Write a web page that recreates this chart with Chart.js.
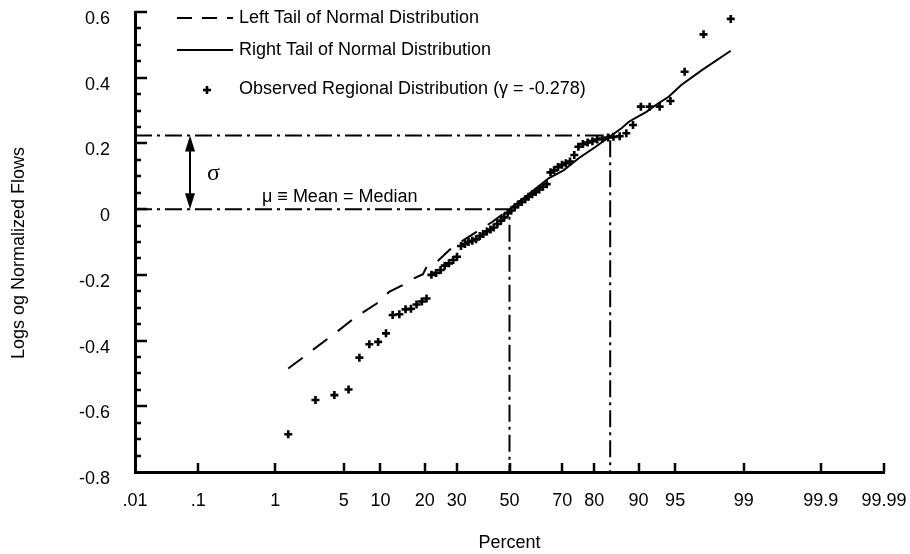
<!DOCTYPE html>
<html>
<head>
<meta charset="utf-8">
<script src="https://cdn.jsdelivr.net/npm/chart.js@4.4.0/dist/chart.umd.min.js"></script>
<style>
  html, body { margin: 0; padding: 0; background: #fff; }
</style>
</head>
<body>
<canvas id="probChart" width="910" height="554"></canvas>
<script>
// x tick positions (percent exceedance) and their labels
const xTickPct = [0.01, 0.1, 1, 5, 10, 20, 30, 50, 70, 80, 90, 95, 99, 99.9, 99.99];
const xTickLabels = ['.01', '.1', '1', '5', '10', '20', '30', '50', '70', '80', '90', '95', '99', '99.9', '99.99'];
const yTicks = [-0.8, -0.6, -0.4, -0.2, 0, 0.2, 0.4, 0.6];

// observed regional distribution (plotting position %, log normalized flow)
const observedPct = [1.4, 2.7, 4.1, 5.5, 6.8, 8.2, 9.6, 11.0, 12.3, 13.7, 15.1, 16.4, 17.8, 19.2, 20.5,
  21.9, 23.3, 24.7, 26.0, 27.4, 28.8, 30.1, 31.5, 32.9, 34.2, 35.6, 37.0, 38.4, 39.7, 41.1, 42.5, 43.8,
  45.2, 46.6, 47.9, 49.3, 50.7, 52.1, 53.4, 54.8, 56.2, 57.5, 58.9, 60.3, 61.6, 63.0, 64.4, 65.8, 67.1,
  68.5, 69.9, 71.2, 72.6, 74.0, 75.3, 76.7, 78.1, 79.5, 80.8, 82.2, 83.6, 84.9, 86.3, 87.7, 89.0, 90.4,
  91.8, 93.2, 94.5, 95.9, 97.3, 98.6];
const observedVal = [-0.685, -0.581, -0.566, -0.549, -0.452, -0.411, -0.404, -0.378, -0.322, -0.320,
  -0.305, -0.303, -0.290, -0.281, -0.272, -0.200, -0.194, -0.185, -0.172, -0.165, -0.155, -0.145,
  -0.112, -0.106, -0.100, -0.096, -0.092, -0.082, -0.076, -0.068, -0.062, -0.056, -0.045, -0.035,
  -0.025, -0.012, -0.004, 0.006, 0.014, 0.022, 0.030, 0.038, 0.045, 0.052, 0.060, 0.068, 0.076,
  0.112, 0.118, 0.128, 0.135, 0.140, 0.145, 0.165, 0.190, 0.198, 0.203, 0.207, 0.212, 0.215, 0.218,
  0.220, 0.222, 0.231, 0.256, 0.312, 0.312, 0.312, 0.329, 0.418, 0.532, 0.579];

// left tail of normal distribution (dashed)
const leftPct = [1.4, 2.0, 2.6, 3.6, 4.5, 5.9, 7.5, 9.3, 11.6, 14.2, 17.4, 19.5, 20.6, 23.5, 27.6, 30.6, 36.0, 43.0, 50.0];
const leftVal = [-0.485, -0.452, -0.426, -0.393, -0.369, -0.337, -0.311, -0.288, -0.252, -0.233, -0.209, -0.198, -0.174, -0.161, -0.124, -0.104, -0.075, -0.040, 0.0];

// right tail of normal distribution (solid)
const rightPct = [50.0, 57.5, 65.1, 70.4, 75.4, 80.4, 83.7, 86.7, 88.2, 91.3, 92.7, 94.3, 95.6, 97.2, 98.6];
const rightVal = [0.0, 0.045, 0.094, 0.118, 0.155, 0.190, 0.218, 0.246, 0.266, 0.296, 0.317, 0.342, 0.378, 0.423, 0.482];

// mean and standard deviation markers
const mu = 0.0;
const sigma = 0.224;
const sigmaPct = 84.13;

// inverse standard normal (Acklam)
function normInv(p) {
    const a = [-3.969683028665376e+01, 2.209460984245205e+02, -2.759285104469687e+02, 1.383577518672690e+02, -3.066479806614716e+01, 2.506628277459239e+00];
    const b = [-5.447609879822406e+01, 1.615858368580409e+02, -1.556989798598866e+02, 6.680131188771972e+01, -1.328068155288572e+01];
    const c = [-7.784894002430293e-03, -3.223964580411365e-01, -2.400758277161838e+00, -2.549732539343734e+00, 4.374664141464968e+00, 2.938163982698783e+00];
    const d = [7.784695709041462e-03, 3.224671290700398e-01, 2.445134137142996e+00, 3.754408661907416e+00];
    const pl = 0.02425;
    let q, r;
    if (p < pl) {
        q = Math.sqrt(-2 * Math.log(p));
        return (((((c[0]*q+c[1])*q+c[2])*q+c[3])*q+c[4])*q+c[5]) / ((((d[0]*q+d[1])*q+d[2])*q+d[3])*q+1);
    }
    if (p > 1 - pl) {
        q = Math.sqrt(-2 * Math.log(1 - p));
        return -(((((c[0]*q+c[1])*q+c[2])*q+c[3])*q+c[4])*q+c[5]) / ((((d[0]*q+d[1])*q+d[2])*q+d[3])*q+1);
    }
    q = p - 0.5;
    r = q * q;
    return (((((a[0]*r+a[1])*r+a[2])*r+a[3])*r+a[4])*r+a[5])*q / (((((b[0]*r+b[1])*r+b[2])*r+b[3])*r+b[4])*r+1);
}

const toPoints = (pcts, vals) => pcts.map((p, i) => ({ x: normInv(p / 100), y: vals[i] }));

const zMin = normInv(xTickPct[0] / 100);
const zMax = normInv(xTickPct[xTickPct.length - 1] / 100);
const yMin = yTicks[0];
const yMax = yTicks[yTicks.length - 1];
const zSigma = normInv(sigmaPct / 100);

const FONT = "'Liberation Sans', Arial, sans-serif";
Chart.defaults.font.family = FONT;
Chart.defaults.font.size = 18;
Chart.defaults.color = '#000';

// axis tick marks (drawn inward), legend, y title and sigma/mean notes
const decor = {
    id: 'decor',
    afterDraw(chart) {
        const { ctx, scales: { x, y }, chartArea: area } = chart;
        const seg = (x1, y1, x2, y2) => { ctx.beginPath(); ctx.moveTo(x1, y1); ctx.lineTo(x2, y2); ctx.stroke(); };
        ctx.save();
        ctx.strokeStyle = '#000';
        ctx.fillStyle = '#000';
        ctx.lineWidth = 2.5;
        xTickPct.slice(1).forEach(p => {
            const px = Math.round(x.getPixelForValue(normInv(p / 100)));
            seg(px, area.bottom, px, area.bottom - 9);
        });
        for (let v = yMin + 0.05; v <= yMax + 1e-9; v += 0.05) {
            const py = Math.round(y.getPixelForValue(v));
            const major = Math.abs(v / 0.2 - Math.round(v / 0.2)) < 1e-6;
            seg(area.left, py, area.left + (major ? 12 : 6), py);
        }

        // legend
        const ds = chart.data.datasets;
        const sx1 = 177, sx2 = 233, tx = 239;
        ctx.lineWidth = 2;
        ctx.setLineDash([15, 10]);
        seg(sx1, 18, sx2, 18);
        ctx.setLineDash([]);
        seg(sx1, 50, sx2, 50);
        ctx.lineWidth = 2.6;
        seg(203, 90, 211, 90);
        seg(207, 86, 207, 94);
        ctx.font = '18px ' + FONT;
        ctx.textBaseline = 'middle';
        ctx.textAlign = 'left';
        ctx.fillText(ds[3].label, tx, 18);
        ctx.fillText(ds[4].label, tx, 50);
        ctx.fillText(ds[5].label, tx, 89);

        // y axis title
        ctx.save();
        ctx.translate(19, 253);
        ctx.rotate(-Math.PI / 2);
        ctx.textAlign = 'center';
        ctx.fillText('Logs og Normalized Flows', 0, 0);
        ctx.restore();

        // sigma arrow
        const ax = area.left + 55;
        const yTop = y.getPixelForValue(mu + sigma);
        const yBot = y.getPixelForValue(mu);
        ctx.lineWidth = 2;
        seg(ax, yTop + 12, ax, yBot - 12);
        ctx.beginPath();
        ctx.moveTo(ax, yTop); ctx.lineTo(ax - 5, yTop + 16); ctx.lineTo(ax + 5, yTop + 16); ctx.closePath(); ctx.fill();
        ctx.beginPath();
        ctx.moveTo(ax, yBot); ctx.lineTo(ax - 5, yBot - 16); ctx.lineTo(ax + 5, yBot - 16); ctx.closePath(); ctx.fill();
        ctx.font = "24px 'Liberation Serif', 'Times New Roman', serif";
        ctx.textBaseline = 'alphabetic';
        ctx.fillText('σ', ax + 17, (yTop + yBot) / 2 + 8);
        ctx.font = '18px ' + FONT;
        ctx.fillText('μ ≡ Mean = Median', area.left + 127, yBot - 7);
        ctx.restore();
    }
};

const ctx = document.getElementById('probChart').getContext('2d');
const chart = new Chart(ctx, {
    type: 'scatter',
    data: {
        datasets: [{
            label: 'sigma guide',
            data: [{ x: zMin, y: mu + sigma }, { x: zSigma, y: mu + sigma }, { x: zSigma, y: yMin }],
            showLine: true,
            borderColor: '#000',
            borderWidth: 2,
            borderDash: [17, 5, 3, 5],
            pointRadius: 0
        }, {
            label: 'mean guide',
            data: [{ x: zMin, y: mu }, { x: 0, y: mu }, { x: 0, y: yMin }],
            showLine: true,
            borderColor: '#000',
            borderWidth: 2,
            borderDash: [17, 5, 3, 5],
            pointRadius: 0
        }, {
            label: 'placeholder',
            data: [],
            showLine: false
        }, {
            label: 'Left Tail of Normal Distribution',
            data: toPoints(leftPct, leftVal),
            showLine: true,
            borderColor: '#000',
            borderWidth: 2,
            borderDash: [18, 13],
            pointRadius: 0
        }, {
            label: 'Right Tail of Normal Distribution',
            data: toPoints(rightPct, rightVal),
            showLine: true,
            borderColor: '#000',
            borderWidth: 2,
            pointRadius: 0
        }, {
            label: 'Observed Regional Distribution (γ = -0.278)',
            data: toPoints(observedPct, observedVal),
            pointStyle: 'cross',
            pointRadius: 4,
            borderWidth: 2.6,
            borderColor: '#000',
            backgroundColor: '#000'
        }]
    },
    options: {
        responsive: false,
        devicePixelRatio: 1,
        animation: false,
        events: [],
        layout: { padding: { left: 0, top: 12, right: 26, bottom: 0 } },
        plugins: { legend: { display: false }, tooltip: { enabled: false } },
        scales: {
            x: {
                type: 'linear',
                min: zMin,
                max: zMax,
                afterBuildTicks: scale => { scale.ticks = xTickPct.map(p => ({ value: normInv(p / 100) })); },
                afterFit: scale => {
                    scale.height = 82;
                    scale.paddingLeft = 0;
                    scale.paddingRight = 0;
                },
                grid: { display: false, drawTicks: false },
                border: { display: true, color: '#000', width: 3 },
                ticks: {
                    autoSkip: false,
                    maxRotation: 0,
                    padding: 18,
                    callback: (value, index) => xTickLabels[index]
                },
                title: { display: true, text: 'Percent', padding: { top: 0, bottom: 0 } }
            },
            y: {
                type: 'linear',
                min: yMin,
                max: yMax,
                afterBuildTicks: scale => { scale.ticks = yTicks.map(v => ({ value: v })); },
                afterFit: scale => {
                    scale.width = 135;
                    scale.paddingTop = 0;
                    scale.paddingBottom = 0;
                },
                grid: { display: false, drawTicks: false },
                border: { display: true, color: '#000', width: 3 },
                ticks: {
                    padding: 25,
                    labelOffset: 7,
                    callback: value => (Math.abs(value) < 1e-9 ? '0' : value.toFixed(1))
                },
                title: { display: false }
            }
        }
    },
    plugins: [decor]
});
</script>
</body>
</html>
